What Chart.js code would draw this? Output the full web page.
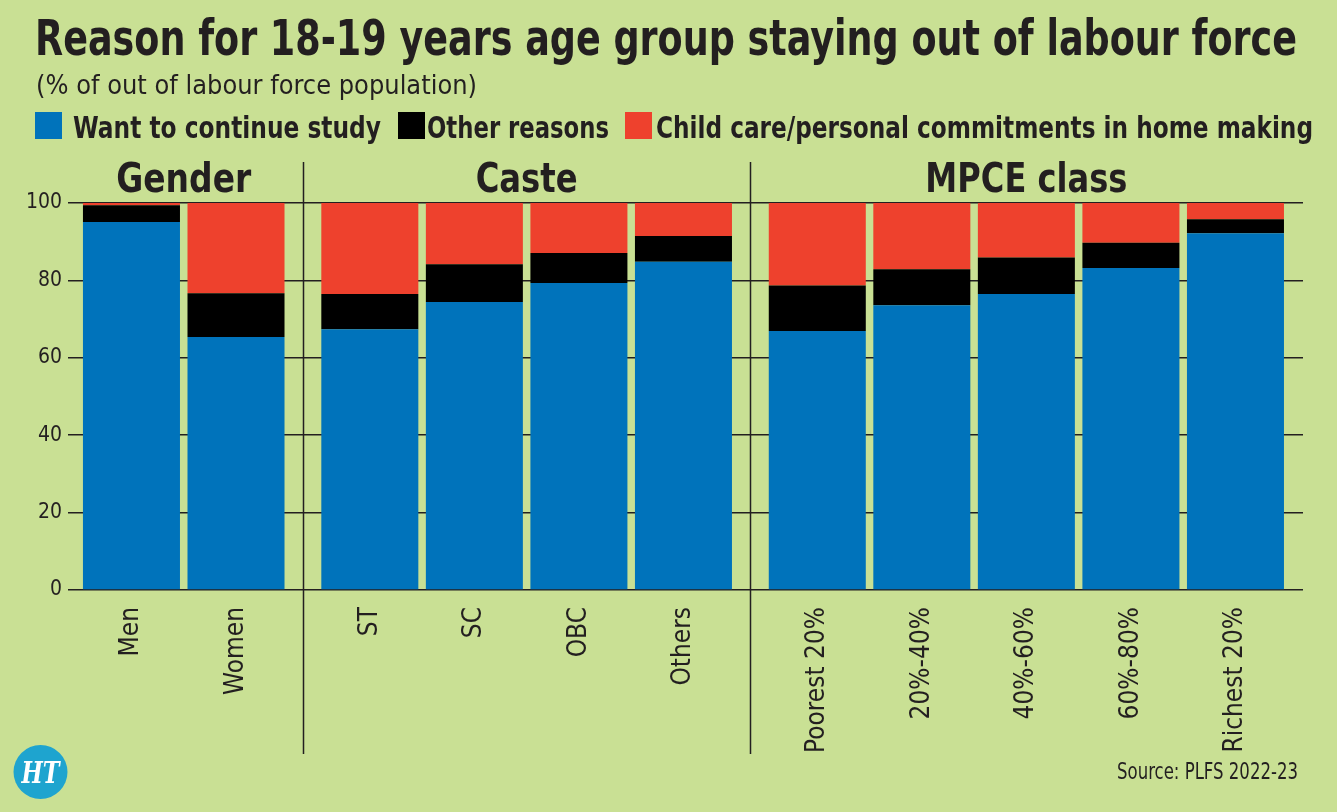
<!DOCTYPE html>
<html>
<head>
<meta charset="utf-8">
<script src="https://cdn.jsdelivr.net/npm/chart.js@4.4.1/dist/chart.umd.min.js"></script>
<style>
  html, body { margin: 0; padding: 0; background: #c9e094; }
  #wrap { width: 1337px; height: 812px; }
</style>
</head>
<body>
<div id="wrap"><canvas id="chart" width="1337" height="812"></canvas></div>
<script>
// data
const categories = ['Men', 'Women', 'ST', 'SC', 'OBC', 'Others', 'Poorest 20%', '20%-40%', '40%-60%', '60%-80%', 'Richest 20%'];
const groups = ['Gender', 'Caste', 'MPCE class'];
const groupOf = [0, 0, 1, 1, 1, 1, 2, 2, 2, 2, 2];
const study = [95.1, 65.4, 67.4, 74.4, 79.3, 84.8, 66.9, 73.6, 76.5, 83.2, 92.2];
const other = [4.3, 11.3, 9.1, 9.8, 7.8, 6.7, 11.8, 9.3, 9.4, 6.5, 3.6];
const childCare = [0.6, 23.3, 23.5, 15.8, 12.9, 8.5, 21.3, 17.1, 14.1, 10.3, 4.2];
const seriesNames = ['Want to continue study', 'Other reasons', 'Child care/personal commitments in home making'];
const seriesColors = ['#0073bb', '#000000', '#ee412d'];
const yTicks = [0, 20, 40, 60, 80, 100];

const INK = '#231f20';
const GROUP_GAP = 0.28; // extra room between groups, in category units
const pos = categories.map((c, i) => i + groupOf[i] * GROUP_GAP);

// find a narrow face if there is one
function pickFont(list) {
  var c = document.createElement('canvas').getContext('2d');
  c.font = '40px monospace';
  var base = c.measureText('abcWMi100').width;
  for (var f of list) {
    c.font = '40px "' + f + '", monospace';
    if (c.measureText('abcWMi100').width !== base) return f;
  }
  return 'Roboto';
}
const FAM = pickFont(['Liberation Sans Narrow', 'DejaVu Sans Condensed', 'Roboto']);

// draws text squeezed to a given width
function fitText(ctx, txt, x, y, w, font, align) {
  ctx.save();
  ctx.font = font;
  var m = ctx.measureText(txt).width;
  var x0 = align === 'center' ? x - w / 2 : (align === 'right' ? x - w : x);
  ctx.translate(x0, y);
  ctx.scale(w / m, 1);
  ctx.textAlign = 'left';
  ctx.textBaseline = 'alphabetic';
  ctx.fillText(txt, 0, 0);
  ctx.restore();
}

const decor = {
  id: 'decor',
  afterDraw(chart) {
    var ctx = chart.ctx, xs = chart.scales.x;
    ctx.fillStyle = INK;
    fitText(ctx, 'Reason for 18-19 years age group staying out of labour force', 35, 55, 1262, 'bold 50px "' + FAM + '"', 'left');
    fitText(ctx, '(% of out of labour force population)', 36, 94, 441, '26px "' + FAM + '"', 'left');

    // legend
    var lg = [[35, 73, 308], [398, 427, 182], [625, 656, 657]];
    lg.forEach((l, i) => {
      ctx.fillStyle = seriesColors[i];
      ctx.fillRect(l[0], 112, 27, 27);
      ctx.fillStyle = INK;
      fitText(ctx, seriesNames[i], l[1], 138, l[2], 'bold 30px "' + FAM + '"', 'left');
    });

    // group titles and separators
    var gw = [135, 102, 202];
    groups.forEach((g, gi) => {
      var idx = groupOf.map((v, i) => v === gi ? i : -1).filter(i => i >= 0);
      var mid = (xs.getPixelForValue(pos[idx[0]]) + xs.getPixelForValue(pos[idx[idx.length - 1]])) / 2;
      ctx.fillStyle = INK;
      fitText(ctx, g, mid, 192, gw[gi], 'bold 40px "' + FAM + '"', 'center');
      if (gi > 0) {
        var sx = Math.round(xs.getPixelForValue((pos[idx[0] - 1] + pos[idx[0]]) / 2)) + 0.5;
        ctx.save();
        ctx.strokeStyle = INK;
        ctx.lineWidth = 1.5;
        ctx.beginPath();
        ctx.moveTo(sx, 162);
        ctx.lineTo(sx, 754);
        ctx.stroke();
        ctx.restore();
      }
    });

    fitText(ctx, 'Source: PLFS 2022-23', 1298, 779, 181, '23px "' + FAM + '"', 'right');

    // HT badge
    ctx.save();
    ctx.fillStyle = '#1ea4cf';
    ctx.beginPath();
    ctx.arc(40.5, 772, 27, 0, Math.PI * 2);
    ctx.fill();
    ctx.fillStyle = '#ffffff';
    fitText(ctx, 'HT', 40.5, 783, 38, 'bold italic 30px "DejaVu Serif"', 'center');
    ctx.restore();
  }
};

const datasets = [study, other, childCare].map((vals, i) => ({
  label: seriesNames[i],
  data: vals.map((v, j) => ({ x: pos[j], y: v })),
  backgroundColor: seriesColors[i],
  borderWidth: 0,
  barPercentage: 0.928,
  categoryPercentage: 1
}));

new Chart(document.getElementById('chart'), {
  type: 'bar',
  data: { datasets: datasets },
  options: {
    responsive: false,
    animation: false,
    devicePixelRatio: 1,
    layout: { padding: { top: 203, right: 34, bottom: 0, left: 0 } },
    plugins: { legend: { display: false }, tooltip: { enabled: false } },
    scales: {
      x: {
        type: 'linear',
        stacked: true,
        offset: false,
        min: pos[0] - 0.607,
        max: pos[pos.length - 1] + 0.646,
        grid: { display: false },
        border: { display: false },
        afterBuildTicks: s => { s.ticks = pos.map(v => ({ value: v })); },
        afterFit: s => { s.height = 222; },
        ticks: {
          autoSkip: false,
          minRotation: 90,
          maxRotation: 90,
          padding: 9,
          color: INK,
          font: { family: FAM, size: 26 },
          callback: (v, i) => categories[i]
        }
      },
      y: {
        stacked: true,
        min: 0,
        max: 100,
        afterBuildTicks: s => { s.ticks = yTicks.map(v => ({ value: v })); },
        afterFit: s => { s.width = 68; },
        grid: { color: INK, lineWidth: 1.5, drawTicks: false },
        border: { display: false },
        ticks: { padding: 6, color: INK, font: { family: FAM, size: 21 } }
      }
    }
  },
  plugins: [decor]
});
</script>
</body>
</html>
